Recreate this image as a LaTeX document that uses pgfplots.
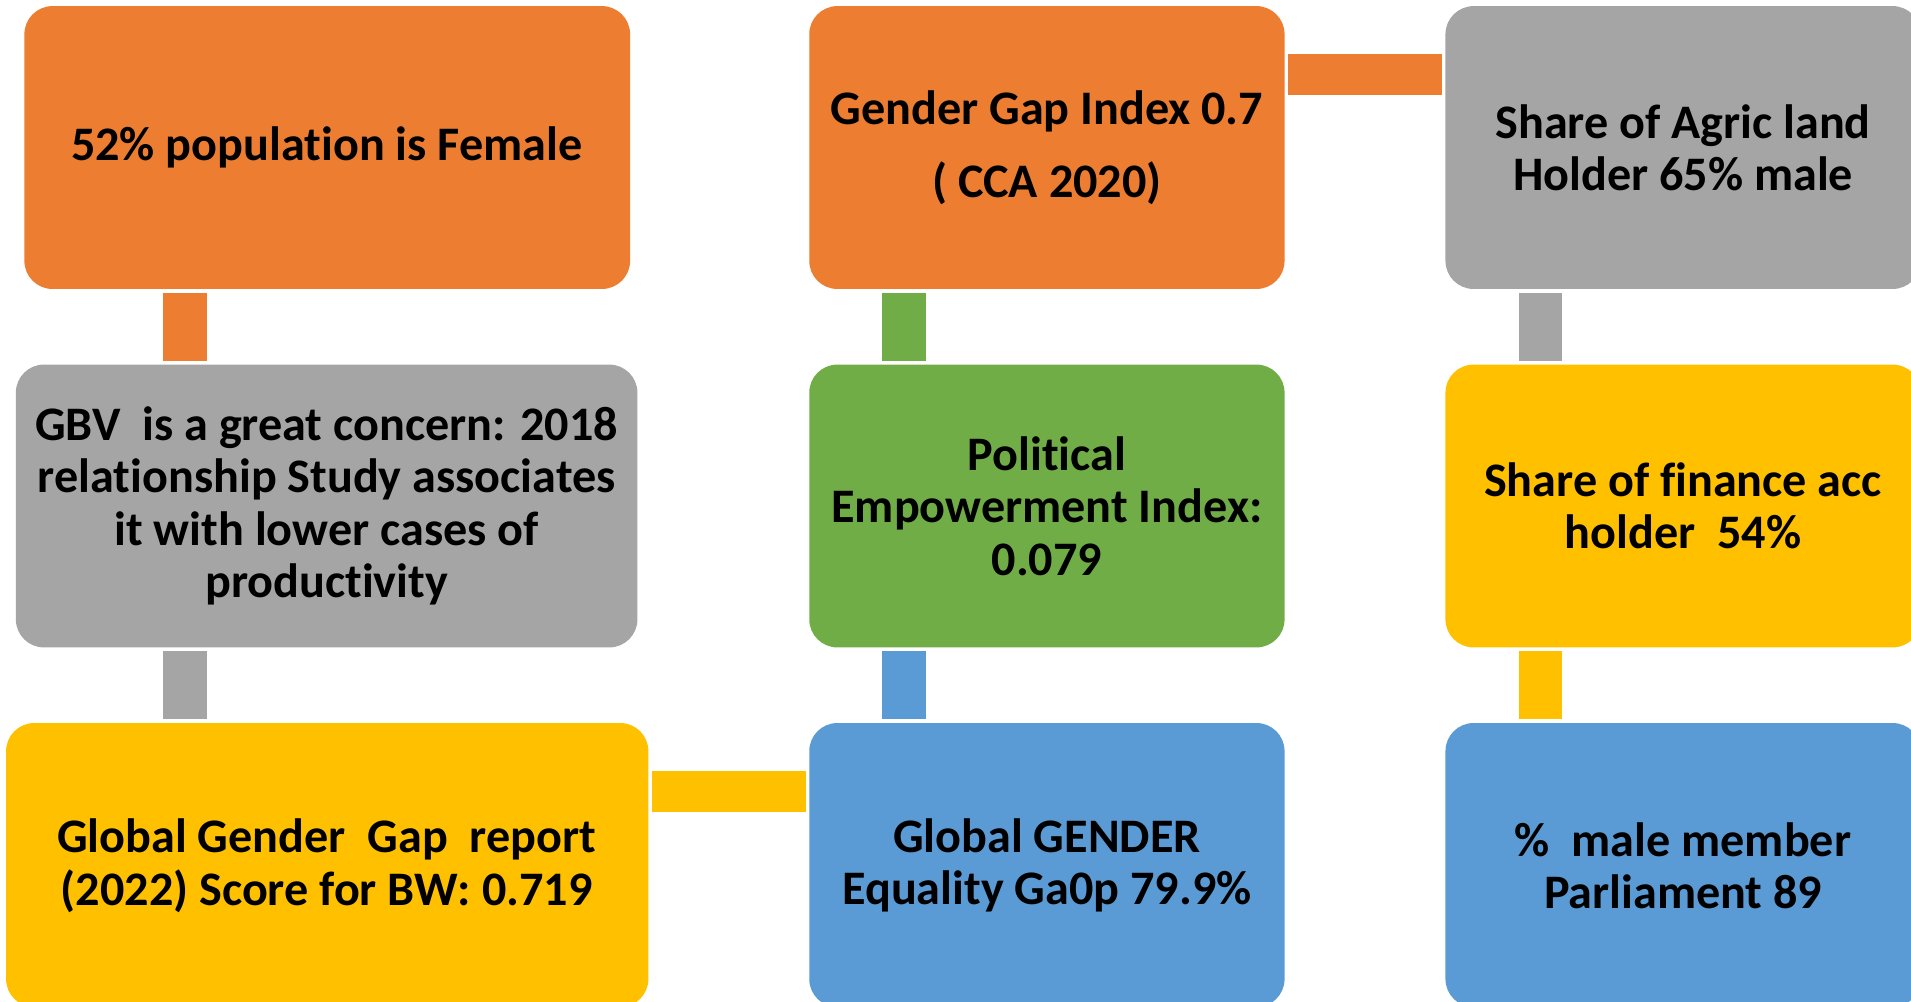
\documentclass[border=0pt]{standalone}
\usepackage{fontspec}
\setmainfont{Carlito}[Ligatures=NoCommon]
\usepackage{pgfplots}
\pgfplotsset{compat=1.18}
\definecolor{cOr}{HTML}{ED7D31}
\definecolor{cGr}{HTML}{A5A5A5}
\definecolor{cGn}{HTML}{70AD47}
\definecolor{cYe}{HTML}{FFC000}
\definecolor{cBl}{HTML}{5B9BD5}
\tikzset{bx/.style={align=center,font=\fontsize{13.7}{14.9}\selectfont\bfseries,text=black,inner sep=0pt}}
\begin{document}
\begin{tikzpicture}
\begin{axis}[width=19.11cm,height=10.01cm,scale only axis,
  xmin=0,xmax=1568,ymin=0,ymax=821,y dir=reverse,hide axis,clip=true]
% --- boxes (rounded) ---
\addplot[draw=none,fill=cOr,rounded corners=8pt] coordinates {(268,5) (517,5) (517,237) (20,237) (20,5)} -- cycle;
\addplot[draw=none,fill=cOr,rounded corners=8pt] coordinates {(859,5) (1054,5) (1054,237) (664,237) (664,5)} -- cycle;
\addplot[draw=none,fill=cGr,rounded corners=8pt] coordinates {(1381,5) (1576,5) (1576,237) (1186,237) (1186,5)} -- cycle;
\addplot[draw=none,fill=cGr,rounded corners=8pt] coordinates {(268,299) (523,299) (523,531) (13,531) (13,299)} -- cycle;
\addplot[draw=none,fill=cGn,rounded corners=8pt] coordinates {(859,299) (1054,299) (1054,531) (664,531) (664,299)} -- cycle;
\addplot[draw=none,fill=cYe,rounded corners=8pt] coordinates {(1381,299) (1576,299) (1576,531) (1186,531) (1186,299)} -- cycle;
\addplot[draw=none,fill=cYe,rounded corners=8pt] coordinates {(268,593) (532,593) (532,826) (5,826) (5,593)} -- cycle;
\addplot[draw=none,fill=cBl,rounded corners=8pt] coordinates {(859,593) (1054,593) (1054,826) (664,826) (664,593)} -- cycle;
\addplot[draw=none,fill=cBl,rounded corners=8pt] coordinates {(1381,593) (1576,593) (1576,826) (1186,826) (1186,593)} -- cycle;
% --- connectors ---
\addplot[draw=none,fill=cOr] coordinates {(134,240) (170,240) (170,296) (134,296)} -- cycle;
\addplot[draw=none,fill=cGn] coordinates {(724,240) (760,240) (760,296) (724,296)} -- cycle;
\addplot[draw=none,fill=cGr] coordinates {(1246,240) (1282,240) (1282,296) (1246,296)} -- cycle;
\addplot[draw=none,fill=cGr] coordinates {(134,534) (170,534) (170,590) (134,590)} -- cycle;
\addplot[draw=none,fill=cBl] coordinates {(724,534) (760,534) (760,590) (724,590)} -- cycle;
\addplot[draw=none,fill=cYe] coordinates {(1246,534) (1282,534) (1282,590) (1246,590)} -- cycle;
\addplot[draw=none,fill=cOr] coordinates {(1057,44) (1183,44) (1183,78) (1057,78)} -- cycle;
\addplot[draw=none,fill=cYe] coordinates {(535,632) (661,632) (661,666) (535,666)} -- cycle;
% --- texts ---
\node[bx] at (axis cs:268,121) {52\% population is Female};
\node[bx] at (axis cs:859,121) {Gender Gap Index 0.7\\[5.8pt]( CCA 2020)};
\node[bx] at (axis cs:1381,121) {Share of Agric land\\Holder 65\% male};
\node[bx] at (axis cs:268,415) {GBV\ \ is a great concern: 2018\\relationship Study associates\\it with lower cases of\\productivity};
\node[bx] at (axis cs:859,415) {Political\\Empowerment Index:\\0.079};
\node[bx] at (axis cs:1381,415) {Share of finance acc\\holder\ \ 54\%};
\node[bx] at (axis cs:268,710) {Global Gender\ \ Gap\ \ report\\(2022) Score for BW: 0.719};
\node[bx] at (axis cs:859,710) {Global GENDER\\Equality Ga0p 79.9\%};
\node[bx] at (axis cs:1381,710) {\%\ \ male member\\Parliament 89};
\end{axis}
\pgfresetboundingbox
\useasboundingbox (current axis.south west) rectangle (current axis.north east);
\end{tikzpicture}
\end{document}
